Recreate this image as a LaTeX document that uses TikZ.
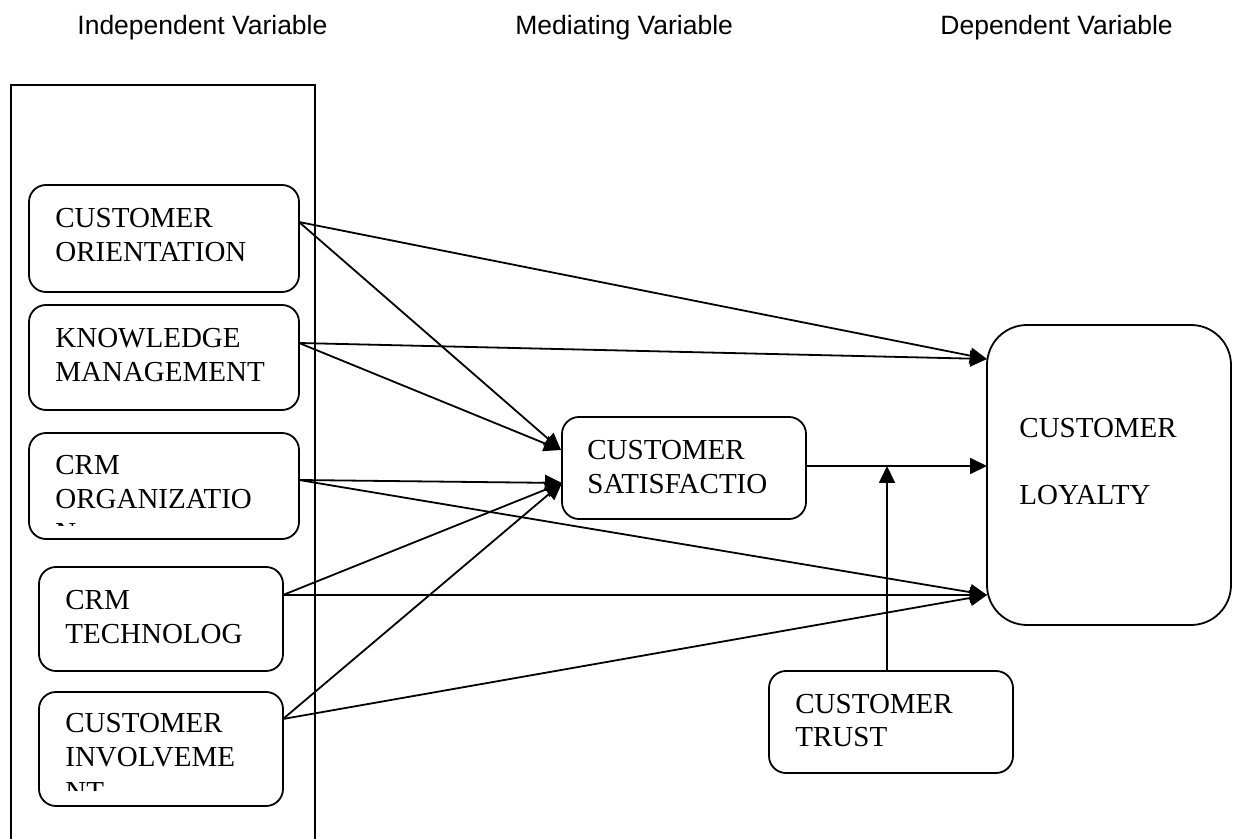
\documentclass[tikz,border=0pt]{standalone}
\usepackage{fontspec}
\setmainfont{Liberation Serif}
\newfontfamily\headfont{Liberation Sans}
\usetikzlibrary{arrows.meta,fit}
\begin{document}
\begin{tikzpicture}[x=0.5pt,y=-0.5pt,
  box/.style={draw, line width=0.9pt, rounded corners=8.5pt, inner sep=0pt},
  bigbox/.style={box, rounded corners=20pt},
  lbl/.style={anchor=base west, inner sep=0pt, font=\fontsize{14.5}{17}\selectfont},
  head/.style={anchor=base west, inner sep=0pt, font=\headfont\fontsize{13.25}{15}\selectfont},
  link/.style={line width=0.9pt, -{Triangle[length=8.5pt,width=8pt]}}]
\useasboundingbox (0,0) rectangle (1233,839);
\clip (0,0) rectangle (1233,839);

% column headings
\node[head] (hIV) at (77,35) {Independent Variable};
\node[head] (hMV) at (515,35) {Mediating Variable};
\node[head] (hDV) at (940,35) {Dependent Variable};

% frame around the independent variables (runs off the bottom)
\draw[line width=0.9pt] (11,900) -- (11,85) -- (315,85) -- (315,900);

% independent variables
\node[box, fit={(29,185) (299,292)}] (co) {};
\node[lbl] (coT1) at (55,228) {CUSTOMER};
\node[lbl] (coT2) at (55,262) {ORIENTATION};

\node[box, fit={(29,305) (299,410)}] (km) {};
\node[lbl] (kmT1) at (55,348) {KNOWLEDGE};
\node[lbl] (kmT2) at (55,382) {MANAGEMENT};

\node[box, fit={(29,433) (299,539)}] (org) {};
\node[lbl] (orgT1) at (55,475) {CRM};
\node[lbl] (orgT2) at (55,509) {ORGANIZATIO};
\begin{scope}
  \clip (29,433) rectangle (299,526);
  \node[lbl] (orgT3) at (55,543) {N};
\end{scope}

\node[box, fit={(39,567) (283,671)}] (tech) {};
\node[lbl] (techT1) at (65,610) {CRM};
\node[lbl] (techT2) at (65,644) {TECHNOLOG};

\node[box, fit={(39,692) (283,806)}] (inv) {};
\node[lbl] (invT1) at (65,733) {CUSTOMER};
\node[lbl] (invT2) at (65,767) {INVOLVEME};
\begin{scope}
  \clip (39,692) rectangle (283,790);
  \node[lbl] (invT3) at (65,801) {NT};
\end{scope}

% mediating variable
\node[box, fit={(562,417) (806,519)}] (sat) {};
\node[lbl] (satT1) at (587,460) {CUSTOMER};
\node[lbl] (satT2) at (587,494) {SATISFACTIO};

% moderator
\node[box, fit={(769,671) (1013,773)}] (trust) {};
\node[lbl] (trustT1) at (795,713) {CUSTOMER};
\node[lbl] (trustT2) at (795,747) {TRUST};

% dependent variable
\node[bigbox, fit={(987,325) (1231,625)}] (loy) {};
\node[lbl] (loyT1) at (1019,438) {CUSTOMER};
\node[lbl] (loyT2) at (1019,505) {LOYALTY};

% connection points on the box borders
\coordinate (coOut) at (299,222);
\coordinate (kmOut) at (299,343);
\coordinate (orgOut) at (299,480);
\coordinate (techOut) at (283,595);
\coordinate (invOut) at (283,719);
\coordinate (satA) at (561,450);
\coordinate (satB) at (562,483);
\coordinate (satOut) at (806,466);
\coordinate (loyA) at (987,359);
\coordinate (loyB) at (987,466);
\coordinate (loyC) at (987,595);
\coordinate (trustOut) at (887,671);
\coordinate (meet) at (887,466);

% paths
\draw[link] (coOut) -- (loyA);
\draw[link] (coOut) -- (satA);
\draw[link] (kmOut) -- (loyA);
\draw[link] (kmOut) -- (satA);
\draw[link] (orgOut) -- (satB);
\draw[link] (orgOut) -- (loyC);
\draw[link] (techOut) -- (satB);
\draw[link] (techOut) -- (loyC);
\draw[link] (invOut) -- (satB);
\draw[link] (invOut) -- (loyC);
\draw[link] (satOut) -- (loyB);
\draw[link] (trustOut) -- (meet);
\end{tikzpicture}
\end{document}
